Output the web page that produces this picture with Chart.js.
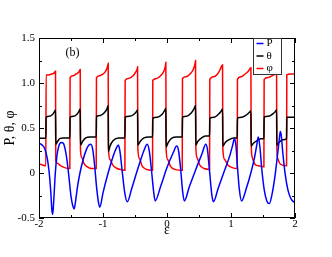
<!DOCTYPE html>
<html>
<head>
<meta charset="utf-8">
<script src="https://cdn.jsdelivr.net/npm/chart.js@4.4.0/dist/chart.umd.min.js"></script>
<style>
  html, body { margin: 0; padding: 0; background: #fff; }
  #wrap { width: 332px; height: 257px; position: relative; }
</style>
</head>
<body>
<div id="wrap"><canvas id="myChart"></canvas></div>
<script>
// values (x = epsilon)
var pEps = [-2.0, -1.95, -1.91, -1.87, -1.84, -1.815, -1.80, -1.79, -1.78, -1.765,
  -1.745, -1.72, -1.69, -1.655, -1.62, -1.59, -1.56, -1.53, -1.50, -1.47,
  -1.45, -1.43, -1.40, -1.36, -1.31, -1.26, -1.22, -1.19, -1.16, -1.13,
  -1.10, -1.07, -1.05, -1.00, -0.92, -0.84, -0.79, -0.76, -0.735, -0.70,
  -0.66, -0.62, -0.55, -0.45, -0.36, -0.31, -0.28, -0.245, -0.21, -0.185,
  -0.10, 0.0, 0.10, 0.15, 0.18, 0.215, 0.245, 0.27, 0.35, 0.45,
  0.55, 0.605, 0.63, 0.665, 0.70, 0.725, 0.80, 0.90, 0.98, 1.03,
  1.052, 1.075, 1.10, 1.13, 1.165, 1.24, 1.31, 1.37, 1.40, 1.425,
  1.45, 1.48, 1.52, 1.56, 1.60, 1.64, 1.69, 1.73, 1.755, 1.77,
  1.785, 1.81, 1.85, 1.89, 1.94, 2.0];
var pVal = [0.33, 0.31, 0.27, 0.16, 0.0, -0.22, -0.40, -0.46, -0.42, -0.25,
  0.0, 0.19, 0.30, 0.34, 0.33, 0.26, 0.13, -0.06, -0.26, -0.37,
  -0.40, -0.32, -0.16, 0.0, 0.15, 0.26, 0.31, 0.32, 0.26, 0.08,
  -0.16, -0.33, -0.38, -0.22, 0.0, 0.19, 0.28, 0.31, 0.24, 0.02,
  -0.22, -0.32, -0.17, 0.06, 0.25, 0.32, 0.26, 0.05, -0.20, -0.31,
  -0.15, 0.06, 0.23, 0.30, 0.25, 0.03, -0.21, -0.31, -0.15, 0.04,
  0.22, 0.32, 0.27, 0.02, -0.24, -0.32, -0.17, 0.03, 0.19, 0.32,
  0.38, 0.32, 0.08, -0.18, -0.31, -0.17, 0.0, 0.18, 0.30, 0.40,
  0.30, 0.05, -0.19, -0.31, -0.34, -0.24, -0.02, 0.22, 0.38, 0.46,
  0.42, 0.22, -0.03, -0.19, -0.29, -0.33];

var thEps = [-2.0, -1.893, -1.889, -1.84, -1.79, -1.76, -1.742, -1.738, -1.71, -1.67, -1.62, -1.518,
  -1.514, -1.46, -1.41, -1.38, -1.356, -1.352, -1.32, -1.27, -1.20, -1.106,
  -1.102, -1.04, -0.98, -0.94, -0.919, -0.915, -0.89, -0.84, -0.76, -0.658,
  -0.654, -0.59, -0.52, -0.48, -0.46, -0.456, -0.42, -0.36, -0.28, -0.226,
  -0.222, -0.15, -0.08, -0.04, -0.018, -0.014, 0.02, 0.08, 0.15, 0.238,
  0.242, 0.31, 0.37, 0.42, 0.446, 0.45, 0.48, 0.54, 0.60, 0.665,
  0.669, 0.74, 0.80, 0.84, 0.868, 0.872, 0.91, 0.97, 1.04, 1.097,
  1.101, 1.17, 1.23, 1.28, 1.311, 1.315, 1.35, 1.41, 1.47, 1.514,
  1.518, 1.58, 1.64, 1.69, 1.712, 1.716, 1.75, 1.81, 1.868,
  1.872, 2.0];
var thVal = [0.385, 0.385, 0.62, 0.63, 0.65, 0.68, 0.70, 0.32, 0.35, 0.385, 0.39, 0.39,
  0.62, 0.63, 0.65, 0.68, 0.71, 0.31, 0.35, 0.39, 0.40, 0.40,
  0.63, 0.64, 0.67, 0.71, 0.75, 0.24, 0.30, 0.36, 0.39, 0.39,
  0.62, 0.63, 0.65, 0.68, 0.70, 0.31, 0.35, 0.39, 0.40, 0.40,
  0.61, 0.62, 0.65, 0.69, 0.72, 0.29, 0.34, 0.39, 0.40, 0.40,
  0.62, 0.63, 0.66, 0.71, 0.75, 0.31, 0.35, 0.39, 0.41, 0.41,
  0.61, 0.62, 0.65, 0.68, 0.71, 0.30, 0.34, 0.37, 0.39, 0.39,
  0.61, 0.62, 0.64, 0.67, 0.69, 0.30, 0.33, 0.36, 0.38, 0.385,
  0.62, 0.63, 0.65, 0.68, 0.70, 0.31, 0.34, 0.37, 0.38,
  0.62, 0.62];

var phEps = [-2.0, -1.95, -1.893,
  -1.889, -1.85, -1.80, -1.765, -1.742,
  -1.738, -1.72, -1.66, -1.60, -1.518,
  -1.514, -1.47, -1.42, -1.38, -1.356,
  -1.352, -1.33, -1.30, -1.25, -1.18, -1.106,
  -1.102, -1.05, -1.00, -0.96, -0.93, -0.919,
  -0.915, -0.89, -0.85, -0.78, -0.70, -0.658,
  -0.654, -0.60, -0.53, -0.49, -0.465, -0.46,
  -0.456, -0.43, -0.39, -0.32, -0.226,
  -0.222, -0.16, -0.10, -0.05, -0.025, -0.018,
  -0.014, 0.01, 0.05, 0.12, 0.238,
  0.242, 0.30, 0.36, 0.41, 0.44, 0.446,
  0.45, 0.47, 0.51, 0.58, 0.665,
  0.669, 0.73, 0.79, 0.83, 0.855, 0.868,
  0.872, 0.90, 0.95, 1.02, 1.097,
  1.101, 1.16, 1.22, 1.27, 1.311,
  1.315, 1.33, 1.37, 1.43, 1.514,
  1.518, 1.58, 1.64, 1.69, 1.712,
  1.716, 1.73, 1.77, 1.868,
  1.872, 1.93, 2.0];
var phVal = [0.10, 0.09, 0.08,
  1.09, 1.09, 1.10, 1.11, 1.13,
  0.14, 0.11, 0.08, 0.06, 0.05,
  1.06, 1.08, 1.10, 1.12, 1.15,
  0.26, 0.17, 0.11, 0.07, 0.05, 0.05,
  1.06, 1.08, 1.10, 1.13, 1.18, 1.22,
  0.27, 0.15, 0.09, 0.05, 0.035, 0.03,
  1.03, 1.05, 1.08, 1.12, 1.16, 1.18,
  0.28, 0.16, 0.08, 0.04, 0.03,
  1.03, 1.05, 1.08, 1.13, 1.19, 1.23,
  0.27, 0.15, 0.08, 0.04, 0.03,
  1.05, 1.07, 1.10, 1.15, 1.22, 1.25,
  0.30, 0.17, 0.09, 0.05, 0.04,
  1.04, 1.07, 1.10, 1.15, 1.19, 1.20,
  0.28, 0.15, 0.09, 0.06, 0.05,
  1.04, 1.07, 1.10, 1.13, 1.17,
  0.35, 0.18, 0.10, 0.08, 0.07,
  1.04, 1.06, 1.08, 1.10, 1.12,
  0.30, 0.16, 0.10, 0.08,
  1.09, 1.10, 1.10];

var seriesNames = ['P', '\u03b8', '\u03c6'];
var serif = "'Liberation Serif', 'DejaVu Serif', serif";

function pts(xs, ys) {
  return xs.map(function (x, i) { return { x: x, y: ys[i] }; });
}

// frame, inward ticks on all four sides, boxed legend and panel tag
var decor = {
  id: 'decor',
  afterDatasetsDraw: function (chart) {
    var c = chart.ctx, a = chart.chartArea;
    var xs = chart.scales.x, ys = chart.scales.y;
    c.save();
    c.strokeStyle = '#000';
    c.lineWidth = 1;
    c.beginPath();
    for (var v = -2; v <= 2.001; v += 0.5) {
      var px = Math.round(xs.getPixelForValue(v)) + 0.5;
      var len = Math.abs(v % 1) < 0.01 ? 5 : 3;
      c.moveTo(px, a.bottom); c.lineTo(px, a.bottom - len);
      c.moveTo(px, a.top); c.lineTo(px, a.top + len);
    }
    for (var w = -0.5; w <= 1.501; w += 0.25) {
      var py = Math.round(ys.getPixelForValue(w)) + 0.5;
      var l2 = Math.abs((w * 2) % 1) < 0.01 ? 5 : 3;
      c.moveTo(a.left, py); c.lineTo(a.left + l2, py);
      c.moveTo(a.right, py); c.lineTo(a.right - l2, py);
    }
    c.stroke();
    c.strokeRect(a.left + 0.5, a.top + 0.5, a.right - a.left - 1, a.bottom - a.top - 1);

    // legend box
    var bx = 253.5, by = a.top + 0.5, bw = 28, bh = 36;
    c.fillStyle = '#fff';
    c.fillRect(bx, by, bw, bh);
    c.strokeStyle = '#333';
    c.strokeRect(bx, by, bw, bh);
    c.font = '11px ' + serif;
    c.textBaseline = 'middle';
    c.textAlign = 'left';
    chart.data.datasets.forEach(function (ds, i) {
      var ry = by + 5 + i * 12.5;
      c.strokeStyle = ds.borderColor;
      c.lineWidth = 1.5;
      c.beginPath();
      c.moveTo(bx + 3, ry); c.lineTo(bx + 10, ry);
      c.stroke();
      c.fillStyle = '#000';
      c.fillText(ds.label, bx + 13, ry);
    });

    c.font = '12px ' + serif;
    c.fillStyle = '#000';
    c.textAlign = 'center';
    c.fillText('(b)', 72.5, 53);
    c.restore();
  }
};

var ctx = document.getElementById('myChart').getContext('2d');

var myChart = new Chart(ctx, {
  type: 'line',
  data: {
    datasets: [{
      label: seriesNames[0],
      data: pts(pEps, pVal),
      borderColor: '#0000ff'
    }, {
      label: seriesNames[1],
      data: pts(thEps, thVal),
      borderColor: '#000000'
    }, {
      label: seriesNames[2],
      data: pts(phEps, phVal),
      borderColor: '#ff0000'
    }]
  },
  options: {
    responsive: true,
    maintainAspectRatio: false,
    animation: false,
    devicePixelRatio: 1,
    layout: { padding: { left: 0, top: 38, right: 37, bottom: 18.6 } },
    elements: {
      point: { radius: 0 },
      line: { borderWidth: 1.5, cubicInterpolationMode: 'monotone', fill: false }
    },
    plugins: {
      legend: { display: false },
      tooltip: { enabled: false }
    },
    scales: {
      x: {
        type: 'linear',
        min: -2, max: 2,
        afterFit: function (s) { s.height = 20.4; },
        grid: { display: false, drawTicks: false },
        border: { display: false },
        ticks: {
          stepSize: 1, padding: 0, maxRotation: 0,
          color: '#000', font: { family: serif, size: 11 }
        },
        title: {
          display: true, text: '\u03b5', color: '#000',
          padding: 0, font: { family: serif, size: 14 }
        }
      },
      y: {
        min: -0.5, max: 1.5,
        afterFit: function (s) { s.width = 39; },
        grid: { display: false, drawTicks: false },
        border: { display: false },
        ticks: {
          stepSize: 0.5, padding: 4,
          color: '#000', font: { family: serif, size: 11 }
        },
        title: {
          display: true, text: 'P, \u03b8, \u03c6', color: '#000',
          padding: { top: 2, bottom: 0 }, font: { family: serif, size: 14 }
        }
      }
    }
  },
  plugins: [decor]
});
</script>
</body>
</html>
